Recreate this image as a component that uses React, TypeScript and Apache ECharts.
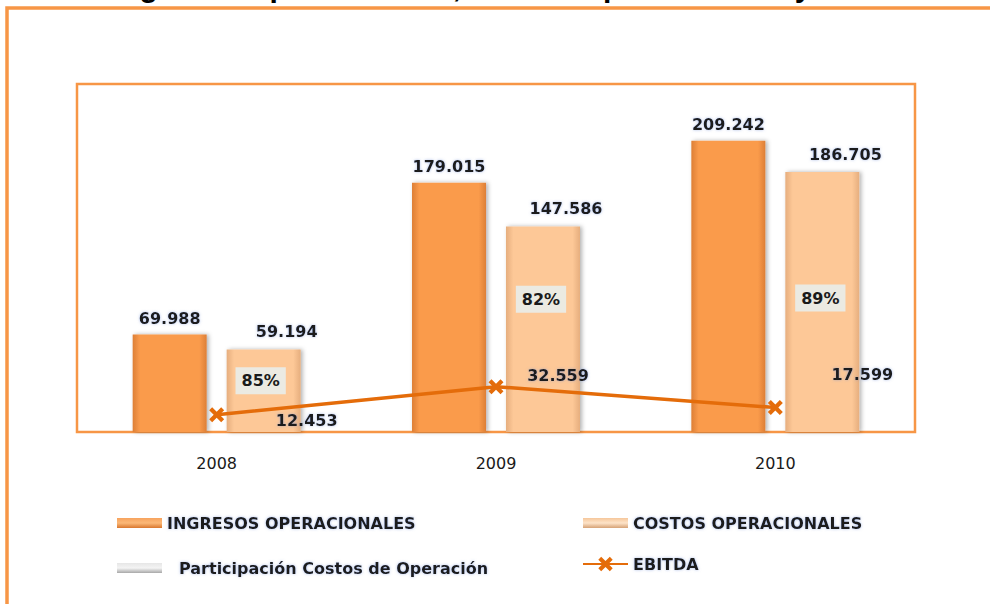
import React, { useEffect, useRef } from 'react';
import * as echarts from 'echarts';

const years = ['2008', '2009', '2010'];
const ingresos = [69.988, 179.015, 209.242];
const costos = [59.194, 147.586, 186.705];
const participacion = [85, 82, 89];
const ebitda = [12.453, 32.559, 17.599];
const seriesNames = [
  'INGRESOS OPERACIONALES',
  'COSTOS OPERACIONALES',
  'Participación Costos de Operación',
  'EBITDA',
];
const titleText = 'Gráfica Ingresos Operacionales, Costos Operacionales y Ebitda 2008-2010';

// label placement tweaks (styling only)
const pctLabelOffsets = [[-3, -10], [-2, -30], [-2, -4]];
const ebitdaLabelOffsets = [[90, 6], [62, -11], [87, -33]];

const FONT = 'DejaVu Sans';
const ORANGE = '#f79646';

const labelText = {
  color: '#1a1a1a',
  fontFamily: FONT,
  fontWeight: 'bold' as const,
  fontSize: 16,
  textShadowColor: 'rgba(110,140,210,0.55)',
  textShadowBlur: 3,
};

const hGrad = (edge: string, mid: string) =>
  new echarts.graphic.LinearGradient(0, 0, 1, 0, [
    { offset: 0, color: edge },
    { offset: 0.1, color: mid },
    { offset: 0.9, color: mid },
    { offset: 1, color: edge },
  ]);
const vGrad = (top: string, mid: string, bottom: string) =>
  new echarts.graphic.LinearGradient(0, 0, 0, 1, [
    { offset: 0, color: top },
    { offset: 0.5, color: mid },
    { offset: 1, color: bottom },
  ]);

const X_SYMBOL =
  'path://M0,2 L2,0 L5,3 L8,0 L10,2 L7,5 L10,8 L8,10 L5,7 L2,10 L0,8 L3,5 Z';

export default function App() {
  const ref = useRef<HTMLDivElement>(null);
  useEffect(() => {
    if (!ref.current) return;
    const chart = echarts.init(ref.current, null, { renderer: 'svg' });
    const legendText = { ...labelText, fontSize: 16 };
    const barShadow = {
      shadowColor: 'rgba(0,0,0,0.3)',
      shadowBlur: 4,
      shadowOffsetX: 2,
      shadowOffsetY: 0,
    };
    chart.setOption({
      animation: false,
      backgroundColor: '#ffffff',
      graphic: [
        {
          type: 'text',
          x: 1,
          y: -14,
          z: 10,
          style: {
            text: titleText,
            fontSize: 30,
            fontWeight: 'bold',
            fontFamily: 'Liberation Sans',
            fill: '#000',
            verticalAlign: 'middle',
          },
        },
        {
          type: 'rect',
          z: -10,
          shape: { x: 7, y: 8, width: 1200, height: 800 },
          style: { fill: 'none', stroke: ORANGE, lineWidth: 3.5 },
        },
      ],
      grid: {
        left: 77,
        top: 84,
        right: 75,
        bottom: 172,
        show: true,
        borderColor: ORANGE,
        borderWidth: 2.5,
        backgroundColor: '#fff',
      },
      legend: [
        {
          left: 112,
          top: 510,
          selectedMode: false,
          itemWidth: 45,
          itemHeight: 10,
          textStyle: legendText,
          data: [
            { name: seriesNames[0], icon: 'rect', itemStyle: { color: vGrad('#f7a35e', '#fbb877', '#d9772e') } },
          ],
        },
        {
          left: 578,
          top: 510,
          selectedMode: false,
          itemWidth: 45,
          itemHeight: 10,
          textStyle: legendText,
          data: [
            { name: seriesNames[1], icon: 'rect', itemStyle: { color: vGrad('#f6c79b', '#fde3c8', '#d6a276') } },
          ],
        },
        {
          left: 112,
          top: 555,
          selectedMode: false,
          itemWidth: 45,
          itemHeight: 10,
          textStyle: { ...legendText, padding: [0, 0, 0, 12] },
          data: [
            { name: seriesNames[2], icon: 'rect', itemStyle: { color: vGrad('#e6e6e6', '#f4f4f4', '#a8a8a8') } },
          ],
        },
        {
          left: 577,
          top: 551,
          selectedMode: false,
          itemWidth: 45,
          itemHeight: 18,
          textStyle: legendText,
          data: [{ name: seriesNames[3] }],
        },
      ],
      xAxis: [
        {
          type: 'category',
          data: years,
          axisLine: { show: true, lineStyle: { color: ORANGE, width: 2 } },
          axisTick: { show: false },
          axisLabel: { color: '#1a1a1a', fontFamily: FONT, fontSize: 16, margin: 23 },
        },
        {
          type: 'category',
          data: years,
          show: false,
        },
      ],
      yAxis: {
        type: 'value',
        min: 0,
        max: 250,
        show: false,
        splitLine: { show: false },
      },
      series: [
        {
          name: seriesNames[0],
          type: 'bar',
          xAxisIndex: 0,
          barWidth: 74,
          barGap: '27%',
          data: ingresos,
          itemStyle: { color: hGrad('#dd7f36', '#fa9b4c'), ...barShadow },
          label: {
            show: true,
            position: 'top',
            distance: 8,
            formatter: (p: any) => ingresos[p.dataIndex].toFixed(3),
            ...labelText,
          },
        },
        {
          name: seriesNames[1],
          type: 'bar',
          xAxisIndex: 0,
          barWidth: 74,
          barGap: '27%',
          data: costos,
          itemStyle: { color: hGrad('#e6ae7e', '#fdc897'), ...barShadow },
          label: {
            show: true,
            position: 'top',
            distance: 10,
            offset: [23, 0],
            formatter: (p: any) => costos[p.dataIndex].toFixed(3),
            ...labelText,
          },
        },
        {
          name: 'spacer',
          type: 'bar',
          xAxisIndex: 1,
          barWidth: 74,
          barGap: '27%',
          data: years.map(() => null),
          silent: true,
        },
        {
          name: seriesNames[2],
          type: 'bar',
          xAxisIndex: 1,
          barWidth: 74,
          barGap: '27%',
          z: 4,
          silent: true,
          itemStyle: { color: 'rgba(0,0,0,0)' },
          data: costos.map((v, i) => ({ value: v, label: { offset: pctLabelOffsets[i] } })),
          label: {
            show: true,
            position: 'inside',
            formatter: (p: any) => participacion[p.dataIndex] + '%',
            ...labelText,
            textShadowBlur: 0,
            backgroundColor: '#ebeae2',
            padding: [6, 6, 5, 6],
          },
        },
        {
          name: seriesNames[3],
          type: 'line',
          xAxisIndex: 0,
          z: 6,
          data: ebitda.map((v, i) => ({ value: v, label: { offset: ebitdaLabelOffsets[i] } })),
          symbol: X_SYMBOL,
          symbolSize: 15,
          color: '#e46c0a',
          itemStyle: { color: '#e46c0a' },
          lineStyle: { color: '#e46c0a', width: 3.5 },
          label: {
            show: true,
            position: 'inside',
            formatter: (p: any) => ebitda[p.dataIndex].toFixed(3),
            ...labelText,
          },
        },
      ],
    });
    return () => chart.dispose();
  }, []);
  return (
    <div
      ref={ref}
      style={{ position: 'fixed', left: 0, top: 0, width: 990, height: 604, background: '#fff' }}
    />
  );
}
